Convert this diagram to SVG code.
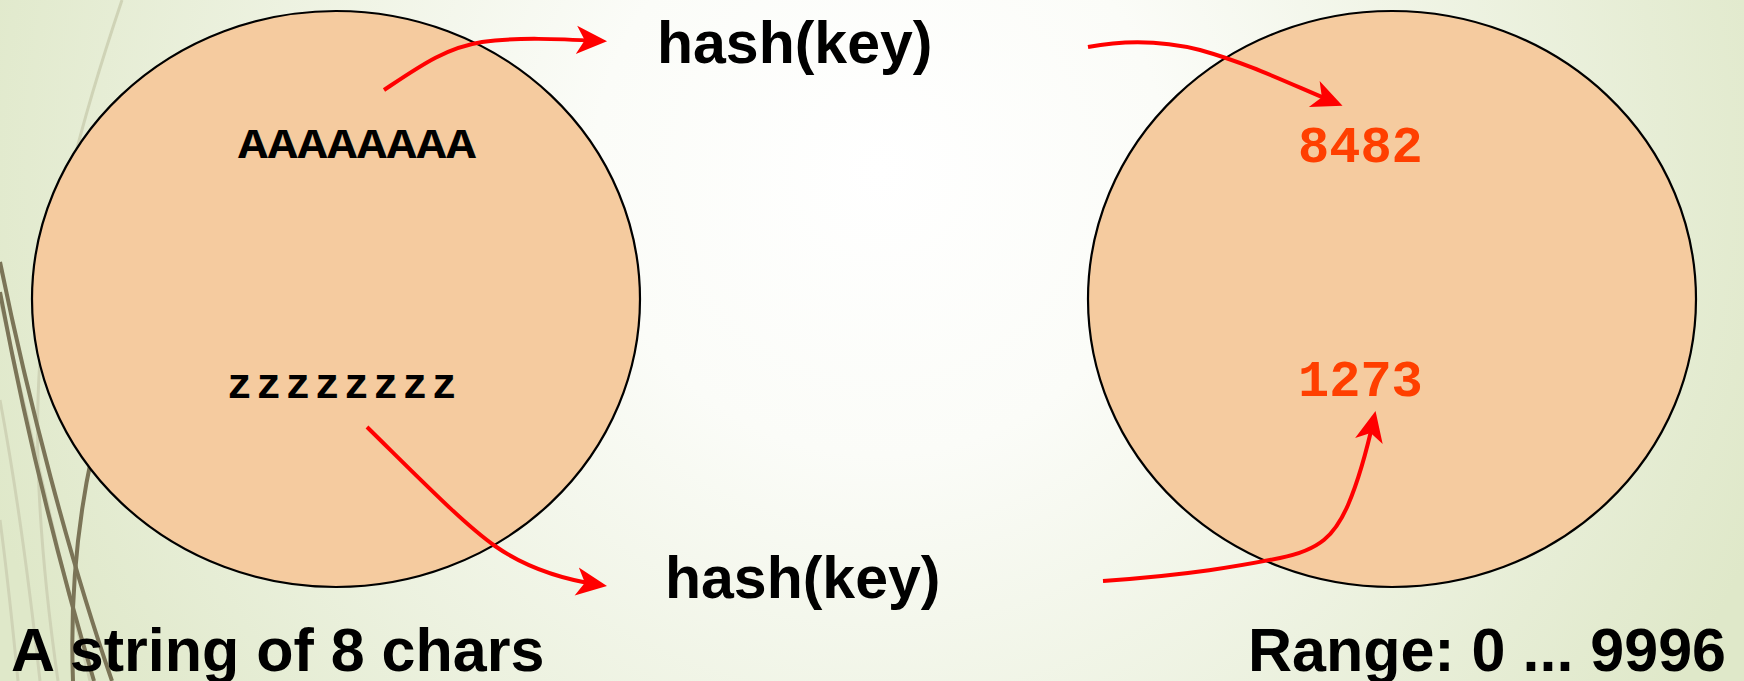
<svg xmlns="http://www.w3.org/2000/svg" width="1744" height="681" viewBox="0 0 1744 681">
  <defs>
    <radialGradient id="bg" gradientUnits="userSpaceOnUse" cx="880" cy="170" r="950">
      <stop offset="0" stop-color="#ffffff"/>
      <stop offset="0.3" stop-color="#fbfcf8"/>
      <stop offset="1" stop-color="#dfe8c9"/>
    </radialGradient>
    <marker id="arrow" markerUnits="userSpaceOnUse" markerWidth="40" markerHeight="40" viewBox="-30 -15 34 30" refX="-6" refY="0" orient="auto">
      <path d="M0,0 L-26,-12 L-19,0 L-26,12 Z" fill="#ff0000"/>
    </marker>
    <style>
      .blob { fill: #f5cb9f; stroke: #000000; stroke-width: 2.2; }
      .label { font-family: "Liberation Sans", Arial, sans-serif; font-weight: bold; fill: #000000; }
      .mono { font-family: "Liberation Mono", "Courier New", monospace; font-weight: bold; }
      .conn { fill: none; stroke: #ff0000; stroke-width: 4; marker-end: url(#arrow); }
      .deco-dark { fill: none; stroke: #7b7457; stroke-width: 4; }
      .deco-light { fill: none; stroke: #cfd3b6; stroke-width: 3; }
    </style>
  </defs>

  <rect x="0" y="0" width="1744" height="681" fill="url(#bg)"/>

  <g id="decoration">
    <path class="deco-light" d="M122,0 C85,110 50,230 40,360 C32,470 45,590 58,681"/>
    <path class="deco-light" d="M0,400 C15,480 30,590 40,681"/>
    <path class="deco-light" d="M0,520 C8,580 14,640 18,681"/>
    <path class="deco-light" d="M0,300 C30,430 60,560 90,681"/>
    <path class="deco-dark" d="M0,262 C28,400 70,560 112,681"/>
    <path class="deco-dark" d="M0,292 C24,420 58,560 94,681"/>
    <path class="deco-dark" d="M92,455 C78,520 70,600 73,681"/>
  </g>

  <g id="node-strings">
    <ellipse class="blob" cx="336" cy="299" rx="304" ry="288"/>
    <text class="mono" x="238" y="158" font-size="42" textLength="238" lengthAdjust="spacingAndGlyphs" fill="#000000">AAAAAAAA</text>
    <text class="mono" x="227" y="398" font-size="42" textLength="230" lengthAdjust="spacing" fill="#000000">zzzzzzzz</text>
  </g>

  <g id="node-range">
    <ellipse class="blob" cx="1392" cy="299" rx="304" ry="288"/>
    <text class="mono" x="1298" y="162" font-size="52" fill="#ff3f00">8482</text>
    <text class="mono" x="1298" y="396" font-size="52" fill="#ff3f00">1273</text>
  </g>

  <g id="node-hash-top">
    <text class="label" x="657" y="63" font-size="59">hash(key)</text>
  </g>
  <g id="node-hash-bottom">
    <text class="label" x="665" y="598" font-size="59">hash(key)</text>
  </g>

  <g id="label-left">
    <text class="label" x="11" y="671" font-size="61">A string of 8 chars</text>
  </g>
  <g id="label-right">
    <text class="label" x="1726" y="671" font-size="61" text-anchor="end">Range: 0 ... 9996</text>
  </g>

  <g id="connectors">
    <path class="conn" d="M384,90 C420,66 445,48 482,42 C515,37 560,39 600,41"/>
    <path class="conn" d="M367,427 C425,484 465,525 495,546 C525,567 560,579 600,585"/>
    <path class="conn" d="M1088,47 C1125,40 1160,40 1200,50 C1250,64 1290,84 1336,103"/>
    <path class="conn" d="M1103,581 C1190,575 1240,566 1280,558 C1320,550 1335,535 1348,505 C1360,477 1368,445 1374,418"/>
  </g>
</svg>
